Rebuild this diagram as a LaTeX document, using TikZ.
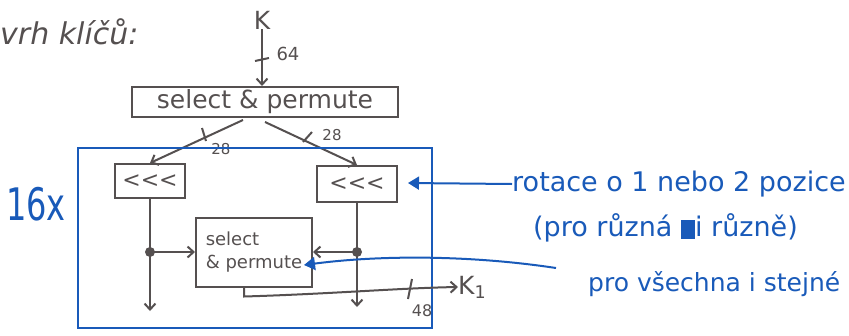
\documentclass[tikz,border=0pt]{standalone}
\usepackage{fontspec}
\setmainfont{DejaVu Sans}
\newfontfamily\plainfont{DejaVu Sans}
\usetikzlibrary{arrows.meta,calc}
\definecolor{pen}{RGB}{85,80,80}
\definecolor{ink}{RGB}{25,90,185}
\begin{document}
\begin{tikzpicture}[x=1pt,y=-1pt,
  every node/.style={inner sep=0pt},
  pencil/.style={draw=pen,line width=2pt},
  blueline/.style={draw=ink,line width=2pt},
  parr/.style={pencil,-{Straight Barb[length=6pt,width=11pt]}},
  barr/.style={blueline,-{Triangle[length=11pt,width=13pt]}},
  pbox/.style={pencil,rectangle,text=pen},
  ptext/.style={text=pen,font=\fontsize{17}{19}\selectfont},
  btext/.style={text=ink,font=\fontsize{27}{30}\selectfont}]
\useasboundingbox (0,0) rectangle (849,335);
% title
\node[anchor=west,text=pen,font=\fontsize{30}{32}\selectfont\itshape] (title) at (0,32) {vrh klíčů:};
% K input
\node[ptext,font=\fontsize{25}{27}\selectfont] (K) at (262,20) {K};
\node[pbox,minimum width=266pt,minimum height=30pt,font=\fontsize{25}{27}\selectfont] (top) at (265,102) {select \& permute};
\draw[parr] (K) -- (top.north -| K);
\coordinate (t64a) at (255,61); \coordinate (t64b) at (269,58);
\draw[pencil] (t64a) -- (t64b);
\node[ptext,font=\fontsize{18}{20}\selectfont] (n64) at (288,54) {64};
% rotation boxes
\node[pbox,minimum width=70pt,minimum height=34pt,font=\plainfont\fontsize{22}{24}\selectfont] (L) at (150,181) {<<<};
\node[pbox,minimum width=80pt,minimum height=36pt,font=\plainfont\fontsize{22}{24}\selectfont] (R) at (357,184) {<<<};
\coordinate (tl) at (243,120);
\coordinate (tr) at (265,122);
\draw[parr] (tl) -- (L.north);
\draw[parr] (tr) -- (R.north);
\coordinate (k1a) at (202,128); \coordinate (k1b) at (206,141);
\draw[pencil] (k1a) -- (k1b);
\node[ptext,font=\fontsize{15}{17}\selectfont] (n28a) at (221,149) {28};
\coordinate (k2a) at (303,142); \coordinate (k2b) at (312,132);
\draw[pencil] (k2a) -- (k2b);
\node[ptext,font=\fontsize{15}{17}\selectfont] (n28b) at (332,135) {28};
% blue loop box
\node[draw=ink,line width=2.5pt,minimum width=354pt,minimum height=180pt] (loop) at (255,238) {};
\node[text=ink,font=\fontsize{32}{34}\selectfont,yscale=1.4] (n16) at (36,204) {16x};
% inner select & permute
\node[pbox,minimum width=116pt,minimum height=69pt,align=left,font=\fontsize{18}{23}\selectfont] (inner) at (254,252) {select\\\& permute};
% branches
\coordinate (dl) at (L.south |- inner.west);
\coordinate (dr) at (R.south |- inner.east);
\coordinate (el) at ($(L.south)+(0,112)$);
\coordinate (er) at ($(R.south)+(0,104)$);
\draw[parr] (L.south) -- (el);
\draw[parr] (R.south) -- (er);
\draw[parr] (dl) -- (inner.west);
\draw[parr] (dr) -- (inner.east);
\fill[pen] (dl) circle (5pt);
\fill[pen] (dr) circle (5pt);
% output K1
\node[ptext,font=\fontsize{25}{27}\selectfont,anchor=west] (K1) at (458,287) {K\textsubscript{1}};
\coordinate (o1) at ($(inner.south)+(-10,0)$);
\coordinate (o2) at ($(inner.south)+(-10,9)$);
\draw[parr] (o1) -- (o2) .. controls (330,294) and (400,288) .. (K1.west);
\coordinate (k3a) at (408,299); \coordinate (k3b) at (412,279);
\draw[pencil] (k3a) -- (k3b);
\node[ptext,font=\fontsize{16}{18}\selectfont] (n48) at (422,311) {48};
% annotations
\node[btext,anchor=west] (rot) at (512,184) {rotace o 1 nebo 2 pozice};
\node[btext,anchor=west] (diff) at (533,228) {(pro různá \rule[-2pt]{14pt}{19pt}i různě)};
\node[btext,anchor=west,font=\fontsize{25}{28}\selectfont] (same) at (588,284) {pro všechna i stejné};
\coordinate (rtip) at (408,183);
\draw[barr] (rot.west) -- (rtip);
\coordinate (sstart) at (556,268);
\coordinate (stip) at (304,265);
\draw[barr] (sstart) .. controls (470,255) and (380,255) .. (stip);
\end{tikzpicture}
\end{document}
